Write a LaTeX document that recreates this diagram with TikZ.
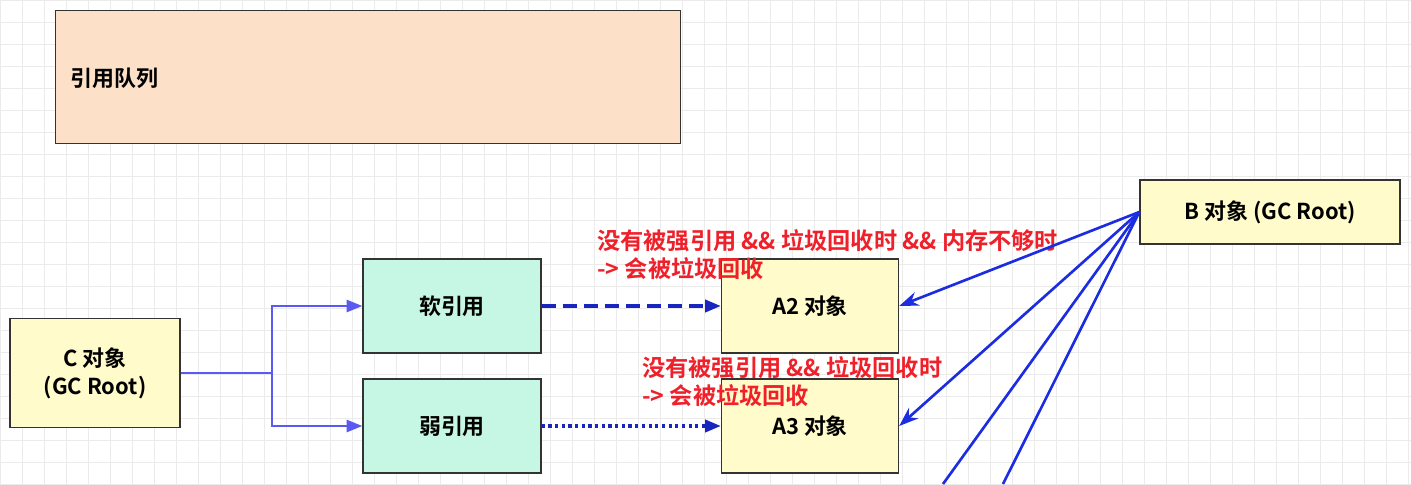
\documentclass[tikz,border=0pt]{standalone}
\usepackage{fontspec}
\setmainfont{Noto Sans CJK SC}[BoldFont={* Bold}]
\usetikzlibrary{arrows.meta,positioning}
\definecolor{peach}{HTML}{FCE0C8}
\definecolor{pale}{HTML}{FFFBCB}
\definecolor{mint}{HTML}{C6F6E4}
\definecolor{refblue}{HTML}{5A5AF2}
\definecolor{rootblue}{HTML}{1C2CE0}
\definecolor{notered}{HTML}{F0202A}
\begin{document}
\begin{tikzpicture}[x=0.02cm,y=-0.02cm,
    box/.style={draw=black!80, line width=0.8pt, font=\bfseries\fontsize{12.5}{16}\selectfont, align=center, inner sep=0pt},
    objnode/.style={box, fill=pale},
    refnode/.style={box, fill=mint, minimum width=3.56cm, minimum height=1.88cm},
    note/.style={text=notered, font=\bfseries\fontsize{13.2}{16}\selectfont, align=left, anchor=north west, inner sep=0pt},
    refline/.style={refblue, line width=1.2pt, -{Triangle[length=9pt,width=7pt]}},
    rootline/.style={rootblue, line width=1.5pt, -{Stealth[length=11pt,width=8pt]}}
  ]
  \useasboundingbox (0,0) rectangle (1411,484);
  % grid
  \fill[white] (0,0) rectangle (1411,484);
  \foreach \x in {0,22,...,1411} \draw[black!8] (\x,0) -- (\x,484);
  \foreach \y in {0,22,...,484} \draw[black!8] (0,\y) -- (1411,\y);

  % Nodes
  \node[box, fill=peach, minimum width=12.5cm, minimum height=2.66cm, anchor=north west] (queue) at (55,10) {};
  \node[box, anchor=west, draw=none] (qlabel) at (70,78) {引用队列};
  \node[objnode, minimum width=5.2cm, minimum height=1.28cm] (B) at (1270,212) {B 对象\ (GC Root)};
  \node[objnode, minimum width=3.4cm, minimum height=2.18cm] (C) at (95,373) {C 对象\\(GC Root)};
  \node[refnode] (soft) at (452,306) {软引用};
  \node[refnode] (weak) at (452,426) {弱引用};
  \node[objnode, minimum width=3.54cm, minimum height=1.88cm] (A2) at (810,306) {A2 对象};
  \node[objnode, minimum width=3.54cm, minimum height=1.88cm] (A3) at (810,426) {A3 对象};
  \coordinate (split) at (272,373);
  \coordinate (off1) at (943,484);
  \coordinate (off2) at (1003,484);

  % Notes
  \node[note] (note1) at (597,229) {没有被强引用 \&\& 垃圾回收时 \&\& 内存不够时\\-> 会被垃圾回收};
  \node[note] (note2) at (642,356) {没有被强引用 \&\& 垃圾回收时\\-> 会被垃圾回收};

  % Edges
  \draw[refblue, line width=1.2pt] (C.east) -- (split);
  \draw[refline] (split) |- (soft.west);
  \draw[refline] (split) |- (weak.west);
  \draw[refline, rootblue!85!black, line width=1.8pt, dash pattern=on 8pt off 4pt] (soft.east) -- (A2.west);
  \draw[refline, rootblue!85!black, line width=1.8pt, dash pattern=on 1.8pt off 2pt] (weak.east) -- (A3.west);
  \draw[rootline] (B.west) -- (A2.east);
  \draw[rootline] (B.west) -- (A3.east);
  \draw[rootblue, line width=1.5pt] (B.west) -- (off1);
  \draw[rootblue, line width=1.5pt] (B.west) -- (off2);
\end{tikzpicture}
\end{document}
